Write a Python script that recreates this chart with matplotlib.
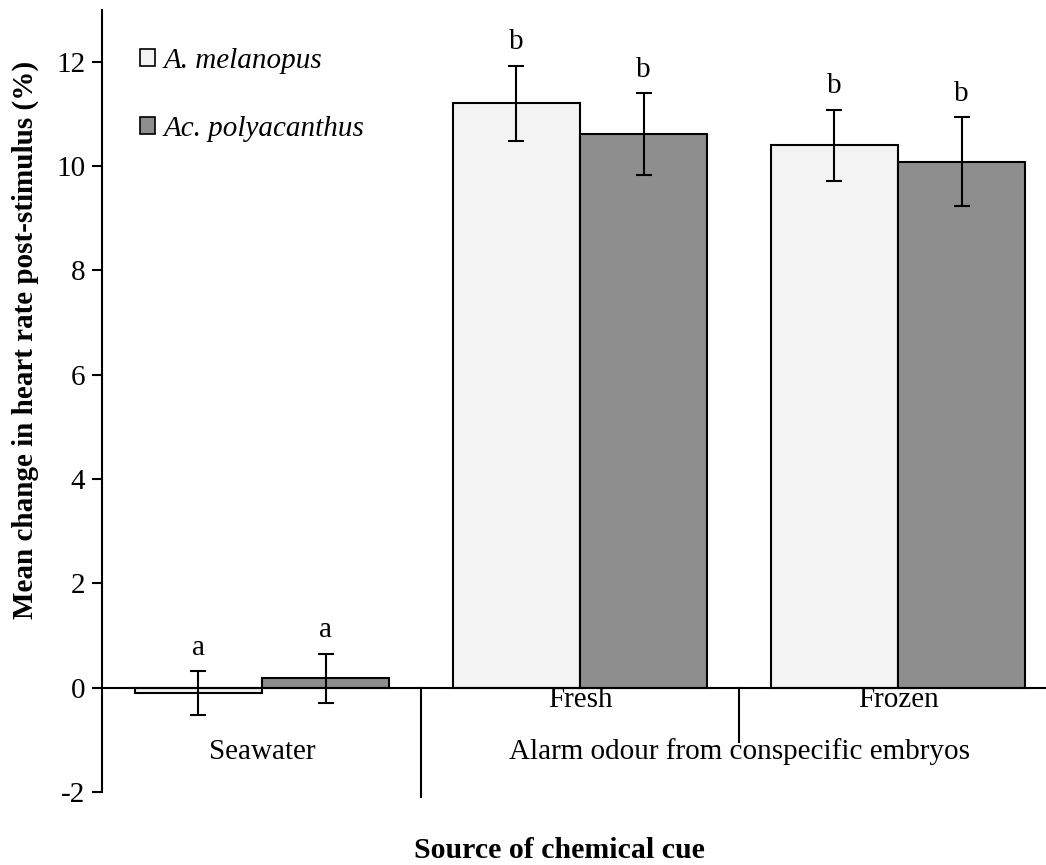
import matplotlib
matplotlib.use("Agg")
import matplotlib.pyplot as plt
from matplotlib.patches import Patch

#%% Data
groups     = ['Seawater', 'Fresh', 'Frozen']
species    = ['A. melanopus', 'Ac. polyacanthus']
melanopus  = [-0.11, 11.20, 10.40]   # [%]
melan_err  = [0.42, 0.72, 0.68]
polyac     = [0.18, 10.61, 10.08]    # [%]
polyac_err = [0.47, 0.79, 0.85]
letters_m  = ['a', 'b', 'b']
letters_p  = ['a', 'b', 'b']

#%% Style
plt.rcParams['font.family'] = ['Liberation Serif', 'DejaVu Serif']
plt.rcParams['font.size'] = 21
plt.rcParams['axes.unicode_minus'] = False
c_light = '#f3f3f3'
c_dark  = '#8e8e8e'
w = 0.4
fs = 21

fig = plt.figure(figsize=(10.46, 8.65), dpi=100)
ax = fig.add_axes([0.0975, 0.0844, 0.9025, 0.9046])

x = list(range(len(groups)))
xm = [i - w/2 for i in x]
xp = [i + w/2 for i in x]
ekw = dict(ecolor='black', elinewidth=1.5, capsize=6, capthick=1.5)
ax.bar(xm, melanopus, w, color=c_light, edgecolor='black', linewidth=1.5,
       yerr=melan_err, error_kw=ekw, zorder=2)
ax.bar(xp, polyac, w, color=c_dark, edgecolor='black', linewidth=1.5,
       yerr=polyac_err, error_kw=ekw, zorder=2)

# significance letters
for xi, v, e, l in zip(xm, melanopus, melan_err, letters_m):
    ax.text(xi, v + e + 0.2, l, ha='center', va='bottom', fontsize=fs)
for xi, v, e, l in zip(xp, polyac, polyac_err, letters_p):
    ax.text(xi, v + e + 0.2, l, ha='center', va='bottom', fontsize=fs)

#%% Axes
ax.set_xlim(-0.503, 2.465)
ax.set_ylim(-2, 13)
ax.set_yticks([-2, 0, 2, 4, 6, 8, 10, 12])
ax.set_xticks([])
for s in ['top', 'right', 'bottom']:
    ax.spines[s].set_visible(False)
ax.spines['left'].set_linewidth(1.5)
ax.tick_params(axis='y', direction='out', length=7, width=1.5, labelsize=fs, pad=5)
ax.axhline(0, color='black', linewidth=1.5, zorder=3)

# group separators and category labels
ax.plot([0.5, 0.5], [0, -2.1], color='black', linewidth=1.5, clip_on=False)
ax.plot([1.5, 1.5], [0, -1.05], color='black', linewidth=1.5, clip_on=False)
ax.text(0, -1.23, groups[0], ha='center', va='center', fontsize=fs)
ax.text(1, -0.23, groups[1], ha='center', va='center', fontsize=fs)
ax.text(2, -0.23, groups[2], ha='center', va='center', fontsize=fs)
ax.text(1.5, -1.23, 'Alarm odour from conspecific embryos', ha='center', va='center', fontsize=fs)

fig.text(0.024, 0.607, 'Mean change in heart rate post-stimulus (%)', rotation=90,
         ha='center', va='center', fontweight='bold', fontsize=21)
fig.text(0.535, 0.017, 'Source of chemical cue', ha='center', va='center',
         fontweight='bold', fontsize=21.5)

handles = [Patch(facecolor=c_light, edgecolor='black', linewidth=1.2),
           Patch(facecolor=c_dark, edgecolor='black', linewidth=1.2)]
leg = ax.legend(handles, species, loc='upper left', bbox_to_anchor=(0.012, 0.985),
                frameon=False, handlelength=0.52, handleheight=0.52, handletextpad=0.3,
                labelspacing=1.45, prop={'family': 'Liberation Serif', 'style': 'italic', 'size': 21})

fig.savefig('out.png', dpi=100)
